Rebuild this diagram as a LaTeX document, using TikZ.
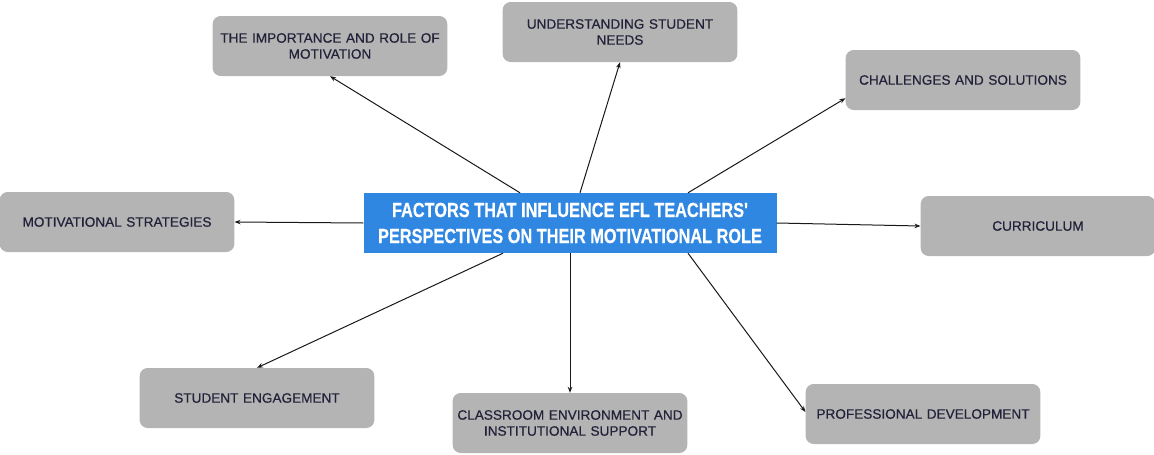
\documentclass[tikz,border=0pt]{standalone}
\usepackage{fontspec}
\setmainfont{Liberation Sans}
\newfontfamily\titlefont[FakeStretch=0.8,FakeBold=0.4]{Liberation Sans}
\newfontfamily\boxfont[FakeBold=0.5]{Liberation Sans}
\usetikzlibrary{arrows.meta}
\definecolor{boxgray}{HTML}{B4B4B4}
\definecolor{mainblue}{HTML}{2F87E2}
\definecolor{inkblue}{HTML}{22223A}

\begin{document}
\begin{tikzpicture}[x=1pt,y=-1pt,
	factor/.style={draw=none,fill=boxgray,rounded corners=8pt,minimum width=233pt,minimum height=60pt,
		text width=228pt,align=center,text=inkblue,font=\boxfont\fontsize{13.6}{16}\selectfont},
	link/.style={-{Stealth[length=6pt,width=4.5pt]},line width=1pt,black!90}]
		\useasboundingbox (0,0) rectangle (1154,455);
		\node[fill=mainblue,minimum width=413pt,minimum height=60pt,align=center,text=white,
			font=\titlefont\bfseries\fontsize{20.4}{26}\selectfont](ctr) at (570,223)
			{FACTORS THAT INFLUENCE EFL TEACHERS'\\PERSPECTIVES ON THEIR MOTIVATIONAL ROLE};
		\node[factor](imp) at (330,46){THE IMPORTANCE AND ROLE OF\\MOTIVATION};
		\node[factor](und) at (620,32){UNDERSTANDING STUDENT\\NEEDS};
		\node[factor](chal) at (963,80){CHALLENGES AND SOLUTIONS};
		\node[factor](strat) at (117,222){MOTIVATIONAL STRATEGIES};
		\node[factor](curr) at (1038,226){CURRICULUM};
		\node[factor](eng) at (257,398){STUDENT ENGAGEMENT};
		\node[factor](env) at (570,423){CLASSROOM ENVIRONMENT AND\\INSTITUTIONAL SUPPORT};
		\node[factor](prof) at (923,414){PROFESSIONAL DEVELOPMENT};
		\draw[link]([xshift=-50pt]ctr.north)--(imp.south);
		\draw[link]([xshift=10pt]ctr.north)--(und.south);
		\draw[link]([xshift=118pt]ctr.north)--([yshift=12pt]chal.south west);
		\draw[link](ctr.west)--(strat.east);
		\draw[link](ctr.east)--(curr.west);
		\draw[link]([xshift=-67pt]ctr.south)--(eng.north);
		\draw[link](ctr.south)--(env.north);
		\draw[link]([xshift=118pt]ctr.south)--([yshift=2pt]prof.west);
		\end{tikzpicture}
\end{document}
